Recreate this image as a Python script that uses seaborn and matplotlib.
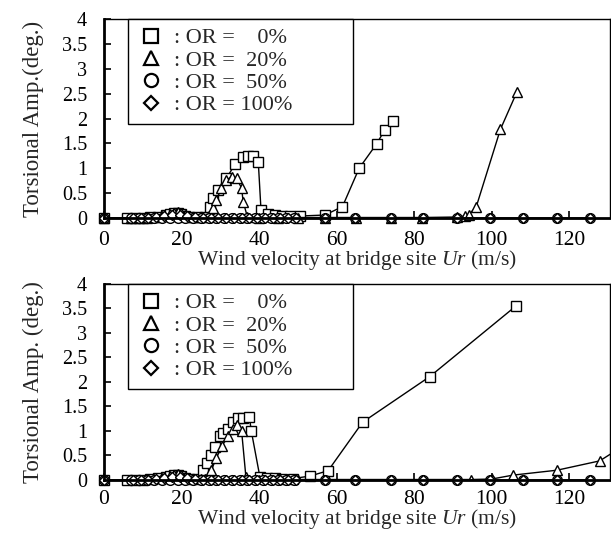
import numpy as np
import pandas as pd
import matplotlib
matplotlib.use("Agg")
import matplotlib.pyplot as plt
from matplotlib.lines import Line2D
from matplotlib.ticker import FuncFormatter
import seaborn as sns

# ---- datos (panel superior) ----
top_or0_x = [0, 6, 8, 10, 12, 14, 16, 17, 18, 19, 20, 21, 22, 24, 26, 27.3, 28.2, 29.5, 31.6, 33.8,
             35.9, 37.1, 38.5, 39.8, 40.5, 42.4, 44, 46, 48, 50.5, 57, 61.5, 65.8, 70.3, 72.4, 74.6]
top_or0_y = [0, 0, 0.01, 0.01, 0.02, 0.03, 0.06, 0.08, 0.1, 0.1, 0.08, 0.05, 0.03, 0.02, 0.03, 0.23,
             0.40, 0.56, 0.80, 1.08, 1.23, 1.24, 1.25, 1.13, 0.16, 0.09, 0.06, 0.05, 0.04, 0.04, 0.06,
             0.23, 1.0, 1.49, 1.77, 1.95]
top_or20_x = [0, 7, 9, 11, 13, 15, 17, 18, 19, 20, 21, 23, 25, 27, 28, 29, 30.3, 31.6, 32.9, 34.2,
              35.5, 35.9, 37, 40, 45, 50, 57, 65, 74, 82, 91, 93, 94, 96, 102.2, 106.5]
top_or20_y = [0, 0, 0.01, 0.01, 0.02, 0.04, 0.08, 0.1, 0.12, 0.1, 0.06, 0.03, 0.02, 0.05, 0.2, 0.36,
              0.6, 0.76, 0.83, 0.8, 0.6, 0.33, 0.02, 0.01, 0.01, 0.01, 0.01, 0.01, 0.01, 0.01, 0.02,
              0.04, 0.06, 0.23, 1.78, 2.54]
top_or50_x = [0, 7, 9, 11, 13, 15, 17, 19, 21, 23, 25, 27, 29, 31, 33, 35, 37, 39, 41, 43, 45, 47, 49,
              57, 64.7, 74.1, 82.3, 90.9, 99.5, 108, 116.7, 125.3]
top_or50_y = [0] * len(top_or50_x)
top_or100_x = [0, 7.5, 9.5, 11.5, 13.5, 15.5, 17.5, 19.5, 21.5, 23.5, 25.5, 27.5, 29.5, 31.5, 33.5,
               35.5, 37.5, 39.5, 41.5, 43.5, 45.5, 47.5, 49.5, 57, 64.7, 74.1, 82.3, 90.9, 99.5, 108,
               116.7, 125.3]
top_or100_y = [0, 0, 0, 0.01, 0.02, 0.04, 0.06, 0.07, 0.04, 0.02, 0.01, 0, 0, 0, 0, 0, 0, 0, 0, 0,
               0, 0, 0, 0, 0, 0, 0, 0, 0, 0, 0, 0]

# ---- panel inferior ----
bot_or0_x = [0, 6, 8, 10, 12, 14, 16, 17, 18, 19, 20, 21, 22, 24, 25.6, 26.6, 27.7, 28.6, 30.0, 30.7,
             32, 33.3, 34.6, 35.8, 37.5, 38, 40.2, 42, 44, 46, 48.8, 53.1, 57.8, 66.7, 84, 106.2]
bot_or0_y = [0, 0, 0.01, 0.01, 0.02, 0.04, 0.07, 0.09, 0.1, 0.1, 0.08, 0.05, 0.03, 0.02, 0.2, 0.35,
             0.51, 0.68, 0.9, 0.95, 1.05, 1.19, 1.26, 1.27, 1.29, 1.0, 0.07, 0.05, 0.04, 0.03, 0.03,
             0.08, 0.19, 1.18, 2.11, 3.55]
bot_or20_x = [0, 7, 9, 11, 13, 15, 17, 18, 19, 20, 21, 23, 25, 26, 27.7, 29, 30.5, 32, 33.3, 34.2,
              35.5, 36.6, 40, 45, 50, 57, 65, 74, 82, 91, 94.7, 100, 105.5, 116.8, 127.8, 135]
bot_or20_y = [0, 0, 0.01, 0.01, 0.02, 0.04, 0.08, 0.1, 0.12, 0.1, 0.06, 0.03, 0.02, 0.02, 0.2, 0.45,
              0.7, 0.9, 1.05, 1.12, 1.0, 0.07, 0.01, 0.01, 0.01, 0.01, 0.01, 0.01, 0.01, 0.01, 0.01,
              0.02, 0.1, 0.2, 0.39, 0.75]
bot_or50_x = top_or50_x
bot_or50_y = top_or50_y
bot_or100_x = top_or100_x
bot_or100_y = top_or100_y

or_labels = ["0%", "20%", "50%", "100%"]
legend_texts = [": OR =    0%", ": OR =  20%", ": OR =  50%", ": OR = 100%"]
markers = {"0%": "s", "20%": "^", "50%": "o", "100%": "D"}

ytick_vals = [0, 0.5, 1, 1.5, 2, 2.5, 3, 3.5, 4]
xtick_vals = [0, 20, 40, 60, 80, 100, 120]
XMAX = 130.4


def armar_df(series):
    filas = []
    for lab, xs, ys in series:
        for x, y in zip(xs, ys):
            filas.append({"Ur": x, "amp": y, "OR": lab})
    return pd.DataFrame(filas)


df_top = armar_df([("0%", top_or0_x, top_or0_y), ("20%", top_or20_x, top_or20_y),
                   ("50%", top_or50_x, top_or50_y), ("100%", top_or100_x, top_or100_y)])
df_bot = armar_df([("0%", bot_or0_x, bot_or0_y), ("20%", bot_or20_x, bot_or20_y),
                   ("50%", bot_or50_x, bot_or50_y), ("100%", bot_or100_x, bot_or100_y)])

sns.set_theme(style="ticks")
plt.rcParams['font.family'] = ['Liberation Serif', 'DejaVu Serif']
plt.rcParams['mathtext.fontset'] = 'custom'
plt.rcParams['mathtext.it'] = 'Liberation Serif:italic'
plt.rcParams['mathtext.rm'] = 'Liberation Serif'

fig = plt.figure(figsize=(6.11, 5.35), dpi=100)
ax1 = fig.add_axes([0.170, 0.5925, 0.828, 0.372])
ax2 = fig.add_axes([0.170, 0.1028, 0.828, 0.3664])


def dibujar(ax, df, ylabel, xtick_pad, xlabel_pad):
    sns.lineplot(data=df, x="Ur", y="amp", hue="OR", style="OR", hue_order=or_labels,
                 style_order=or_labels, markers=markers, dashes=False,
                 palette=["black"] * 4, estimator=None, sort=False, legend=False,
                 markerfacecolor="white", markeredgecolor="black", markeredgewidth=1.0,
                 markersize=7, linewidth=1.0, ax=ax)
    # los marcadores en x=0 se dibujan encima del eje
    for ln in ax.lines:
        if max(ln.get_xdata()) <= XMAX:
            ln.set_clip_on(False)
        if ln.get_marker() == "D":
            ln.set_markersize(5.5)
    ax.set_xlim(0, XMAX)
    ax.set_ylim(0, 4)
    ax.set_yticks(ytick_vals)
    ax.set_xticks(xtick_vals)
    ax.yaxis.set_major_formatter(FuncFormatter(lambda v, p: "%g" % v))
    ax.tick_params(axis="both", direction="in", length=5, width=1.2, colors="black")
    ax.tick_params(axis="y", pad=12, labelsize=14.5)
    ax.tick_params(axis="x", pad=xtick_pad, labelsize=15.5)
    ax.set_ylabel(ylabel, fontsize=16.5, labelpad=13)
    ax.set_xlabel("Wind velocity at bridge site $\\mathit{Ur}$ (m/s)", fontsize=15.5,
                  labelpad=xlabel_pad)
    for s in ax.spines.values():
        s.set_visible(True)
        s.set_color("black")
        s.set_linewidth(1.0)
    ax.spines["left"].set_linewidth(2.0)
    ax.spines["bottom"].set_linewidth(2.0)
    handles = [Line2D([], [], linestyle="none", marker=markers[k],
                      markersize=7.5 if k == "100%" else 9.5,
                      markerfacecolor="white", markeredgecolor="black", markeredgewidth=1.6)
               for k in or_labels]
    leg = ax.legend(handles, legend_texts, loc="upper left",
                    bbox_to_anchor=(0.047, 0.0, 0.445, 1.0), mode="expand",
                    borderaxespad=0, fancybox=False, framealpha=1, edgecolor="black",
                    fontsize=16, labelspacing=0.08, handletextpad=0.4, handlelength=1.3,
                    borderpad=0.4)
    leg.get_frame().set_linewidth(1.0)


dibujar(ax1, df_top, "Torsional Amp.(deg.)", 9, -1)
dibujar(ax2, df_bot, "Torsional Amp. (deg.)", 7, -1)

fig.savefig("out.png", dpi=100)
